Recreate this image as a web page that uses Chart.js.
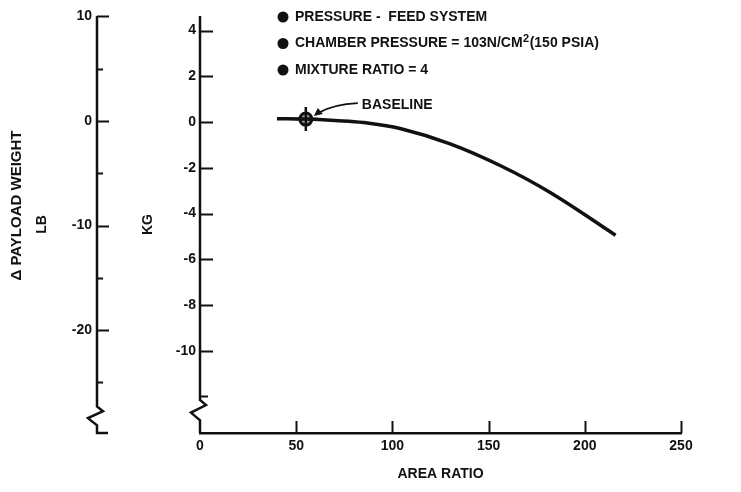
<!DOCTYPE html>
<html>
<head>
<meta charset="utf-8">
<script src="https://cdn.jsdelivr.net/npm/chart.js@4.4.1/dist/chart.umd.min.js"></script>
<style>
  html, body { margin: 0; padding: 0; background: #fff; }
  #wrap { width: 741px; height: 492px; }
</style>
</head>
<body>
<div id="wrap"><canvas id="chart" width="741" height="492"></canvas></div>
<script>
// ===== DATA =====
const areaRatio = [40, 55, 70, 85, 104, 130, 156, 182, 216];
const deltaKg   = [0.15, 0.13, 0.07, -0.02, -0.28, -0.95, -1.9, -3.08, -4.95];
const baselineX = [55];
const baselineY = [0.13];

const xTicks  = [0, 50, 100, 150, 200, 250];
const kgTicks = [4, 2, 0, -2, -4, -6, -8, -10];
const kgMinor = [-12];
const lbTicks = [10, 0, -10, -20];
const lbMinor = [5, -5, -15, -25];

const kgRange = [-13.6, 4.64];
const lbRange = [-29.84, 10.04];
const kgBreak = [-12.15, -13.05];
const lbBreak = [-27.3, -29.1];

const notes = ['PRESSURE -  FEED SYSTEM', 'CHAMBER PRESSURE = 103N/CM²(150 PSIA)', 'MIXTURE RATIO = 4'];

// ===== STYLE =====
const INK = '#111';
const FAMILY = "'Liberation Sans', Arial, sans-serif";
const FONT = { family: FAMILY, size: 14, weight: 'bold' };

// ===== DECORATIONS (axes with breaks, inward ticks, notes) =====
function brokenAxis(ctx, scale, brk, foot) {
  const x0 = scale.right;
  const a = scale.getPixelForValue(brk[0]);
  const b = scale.getPixelForValue(brk[1]);
  const h = b - a;
  ctx.beginPath();
  ctx.moveTo(x0, scale.top);
  ctx.lineTo(x0, a);
  ctx.lineTo(x0 + 6, a + h * 0.25);
  ctx.lineTo(x0 - 9, a + h * 0.62);
  ctx.lineTo(x0, b);
  ctx.lineTo(x0, scale.bottom);
  if (foot) ctx.lineTo(x0 + 11, scale.bottom);
  ctx.stroke();
}

function inwardTicks(ctx, scale, values, len) {
  ctx.beginPath();
  values.forEach(v => {
    const p = Math.round(scale.getPixelForValue(v)) + 0.5;
    if (scale.isHorizontal()) {
      ctx.moveTo(p, scale.top);
      ctx.lineTo(p, scale.top - len);
    } else {
      ctx.moveTo(scale.right, p);
      ctx.lineTo(scale.right + len, p);
    }
  });
  ctx.stroke();
}

function setFont(ctx, size) {
  ctx.font = `bold ${size}px ${FAMILY}`;
}

const paperPlugin = {
  id: 'paper',
  afterDraw(chart) {
    const { ctx, chartArea, scales: { x, y, lb } } = chart;
    ctx.save();
    ctx.strokeStyle = INK;
    ctx.fillStyle = INK;
    ctx.lineCap = 'butt';

    // vertical axes with the break symbol
    ctx.lineWidth = 2.5;
    brokenAxis(ctx, y, kgBreak, false);
    brokenAxis(ctx, lb, lbBreak, true);

    // tick marks point into the plot
    ctx.lineWidth = 2;
    inwardTicks(ctx, x, xTicks.slice(1), 12);
    inwardTicks(ctx, y, kgTicks, 13);
    inwardTicks(ctx, y, kgMinor, 8);
    inwardTicks(ctx, lb, lbTicks, 12);
    inwardTicks(ctx, lb, lbMinor, 6);

    // left outer title
    setFont(ctx, 15);
    ctx.save();
    ctx.translate(lb.left + 17, (lb.top + lb.bottom) / 2 - 19);
    ctx.rotate(-Math.PI / 2);
    ctx.textAlign = 'center';
    ctx.textBaseline = 'middle';
    ctx.fillText('Δ PAYLOAD WEIGHT', 0, 0);
    ctx.restore();

    // notes block
    ctx.textBaseline = 'middle';
    ctx.textAlign = 'left';
    notes.forEach((txt, i) => {
      const nx = chartArea.left + 83;
      const ny = chartArea.top + 1 + i * 26.5;
      ctx.beginPath();
      ctx.arc(nx, ny, 5.5, 0, Math.PI * 2);
      ctx.fill();
      let tx = nx + 12;
      const parts = txt.split('²');
      parts.forEach((part, k) => {
        setFont(ctx, 14);
        ctx.fillText(part, tx, ny);
        tx += ctx.measureText(part).width;
        if (k < parts.length - 1) {
          setFont(ctx, 11);
          ctx.fillText('2', tx + 0.5, ny - 5);
          tx += ctx.measureText('2').width + 1;
        }
      });
    });

    // baseline call-out
    const bx = x.getPixelForValue(baselineX[0]);
    const by = y.getPixelForValue(baselineY[0]);
    ctx.lineWidth = 1.8;
    ctx.beginPath();
    ctx.moveTo(bx + 52, by - 16);
    ctx.quadraticCurveTo(bx + 28, by - 15, bx + 12, by - 6);
    ctx.stroke();
    ctx.beginPath();
    ctx.moveTo(bx + 8, by - 3);
    ctx.lineTo(bx + 17, by - 5);
    ctx.lineTo(bx + 12, by - 11);
    ctx.closePath();
    ctx.fill();
    setFont(ctx, 14);
    ctx.fillText('BASELINE', bx + 56, by - 14);

    ctx.restore();
  }
};

// ===== CHART =====
const curve = areaRatio.map((v, i) => ({ x: v, y: deltaKg[i] }));
const base  = baselineX.map((v, i) => ({ x: v, y: baselineY[i] }));

const yCommon = {
  type: 'linear',
  position: 'left',
  grid: { display: false, drawTicks: false },
  border: { display: false },
};

new Chart(document.getElementById('chart').getContext('2d'), {
  type: 'line',
  data: {
    datasets: [
      {
        data: curve,
        borderColor: INK,
        borderWidth: 3.5,
        pointRadius: 0,
        tension: 0.4,
        fill: false,
        yAxisID: 'y',
      },
      {
        type: 'scatter',
        data: base,
        pointStyle: 'circle',
        pointRadius: 6,
        borderColor: INK,
        borderWidth: 3,
        backgroundColor: 'rgba(0,0,0,0.35)',
        yAxisID: 'y',
      },
      {
        type: 'scatter',
        data: base,
        pointStyle: 'cross',
        pointRadius: 12,
        borderColor: INK,
        borderWidth: 2.5,
        yAxisID: 'y',
      },
    ]
  },
  options: {
    responsive: false,
    animation: false,
    devicePixelRatio: 1,
    layout: { padding: { left: 0, top: 16, right: 60, bottom: 0 } },
    plugins: { legend: { display: false }, tooltip: { enabled: false } },
    scales: {
      x: {
        type: 'linear',
        position: 'bottom',
        min: 0, max: 250,
        afterBuildTicks: s => { s.ticks = xTicks.map(v => ({ value: v })); },
        afterFit: s => { s.height = 59; },
        grid: { display: false, drawTicks: false },
        border: { display: true, color: INK, width: 2.5 },
        ticks: { color: INK, font: FONT, padding: 5, maxRotation: 0 },
        title: { display: true, text: 'AREA RATIO', color: INK, font: FONT, padding: { top: 0, bottom: 9 } },
      },
      y: {
        ...yCommon,
        weight: 0,
        min: kgRange[0], max: kgRange[1],
        afterBuildTicks: s => { s.ticks = kgTicks.map(v => ({ value: v })); },
        afterFit: s => { s.width = 103; },
        ticks: { color: INK, font: FONT, padding: 4 },
        title: { display: true, text: 'KG', color: INK, font: FONT, padding: { top: 43, bottom: 0 } },
      },
      lb: {
        ...yCommon,
        weight: 1,
        min: lbRange[0], max: lbRange[1],
        afterBuildTicks: s => { s.ticks = lbTicks.map(v => ({ value: v })); },
        afterFit: s => { s.width = 97; },
        ticks: { color: INK, font: FONT, padding: 5 },
        title: { display: true, text: 'LB', color: INK, font: FONT, padding: { top: 34, bottom: 0 } },
      },
    }
  },
  plugins: [paperPlugin]
});
</script>
</body>
</html>
